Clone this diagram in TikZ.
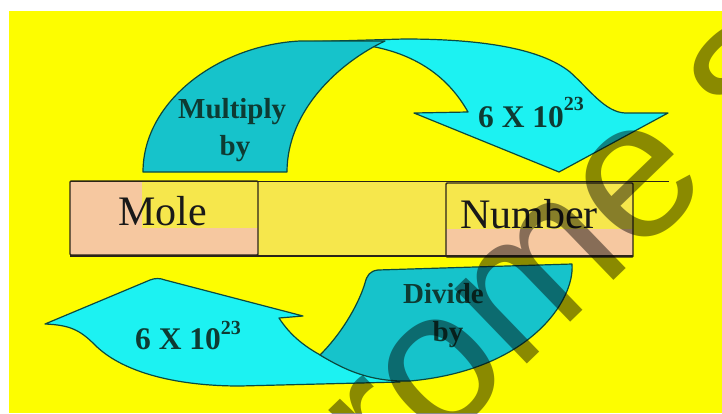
\documentclass[tikz,border=0pt]{standalone}
\usepackage{fontspec}
\setmainfont{Liberation Serif}
\newfontfamily\markfont{Liberation Sans}
\definecolor{bgyellow}{HTML}{FDFD00}
\definecolor{bandc}{HTML}{F6E74C}
\definecolor{peach}{HTML}{F6C8A0}
\definecolor{cyanfill}{HTML}{1CF2F2}
\definecolor{tealfill}{HTML}{16C3CB}
\definecolor{outl}{HTML}{0B4A40}
\definecolor{lblc}{HTML}{0E3B33}
\definecolor{boxline}{HTML}{2A2418}
\begin{document}
\begin{tikzpicture}[x=1pt,y=-1pt,
  shapeedge/.style={draw=outl, line width=1.2pt, line join=round},
  boxedge/.style={draw=boxline, line width=1.4pt},
  boxtxt/.style={text=black!90, inner sep=0pt, font=\fontsize{42}{42}\selectfont},
  lbl/.style={text=lblc, inner sep=0pt, font=\bfseries\fontsize{29}{29}\selectfont},
  numlbl/.style={text=lblc, inner sep=0pt, font=\bfseries\fontsize{31.5}{31.5}\selectfont},
  wm/.style={text=black, text opacity=0.45, inner sep=0pt, font=\markfont\fontsize{197}{197}\selectfont}]
\useasboundingbox (0,0) rectangle (722,413);
\begin{scope}
\clip (0,0) rectangle (722,413);
% page and yellow panel
\fill[white] (0,0) rectangle (722,413);
\fill[bgyellow] (9,11) rectangle (722,413);

% central band with the two boxes
\fill[bandc] (70,181) rectangle (633,256);
\fill[peach] (70,181) rectangle (258,255);
\fill[bandc] (142,181) rectangle (258,228);
\fill[peach] (446,183) rectangle (633,257);
\fill[bandc] (446,183) rectangle (633,229);
\draw[boxedge] (70,181.5) -- (669,181.5);
\draw[boxedge] (70,256) -- (633,256);
\draw[boxedge, rounded corners=1pt] (70,181) rectangle (258,255);
\draw[boxedge, rounded corners=1pt] (446,183) rectangle (633,257);
\node[boxtxt, anchor=base west] (mole) at (118,225) {Mole};
\node[boxtxt, anchor=base west] (number) at (460,228) {Number};

% upper arrow: cyan ribbon with downward head
\path[shapeedge, fill=cyanfill]
  (300,42) -- (404,39) .. controls (480,39) and (540,48) .. (570,72)
  .. controls (590,90) and (605,112) .. (625,113) -- (668,113)
  -- (559,172) -- (414,113) -- (468,112)
  .. controls (450,80) and (420,55) .. (370,46) -- cycle;
% upper arrow: teal rising tail
\path[shapeedge, fill=tealfill]
  (143,172) .. controls (143,100) and (220,45) .. (300,41) -- (385,41)
  .. controls (340,62) and (287,110) .. (287,172) -- cycle;

% lower arrow: cyan ribbon with leftward head
\path[shapeedge, fill=cyanfill]
  (45,324) -- (150,280) .. controls (155,278) and (160,278) .. (165,280)
  -- (303,316) -- (279,318) .. controls (290,335) and (305,348) .. (330,360)
  -- (400,382) -- (240,386) .. controls (170,386) and (120,370) .. (95,345)
  .. controls (80,330) and (70,325) .. (45,324) -- cycle;
% lower arrow: teal falling tail
\path[shapeedge, fill=tealfill]
  (320,355) .. controls (345,330) and (360,300) .. (365,283)
  .. controls (367,275) and (370,271) .. (378,270) -- (572,264)
  .. controls (575,300) and (530,370) .. (410,381)
  .. controls (370,382) and (345,370) .. (320,355) -- cycle;

% arrow labels
\node[lbl, anchor=base west] (mul) at (178,118) {Multiply};
\node[lbl, anchor=base] (mulby) at (235,155) {by};
\node[numlbl, anchor=base west] (upnum) at (478,127) {6 X 10\raisebox{17pt}{\fontsize{20}{20}\selectfont 23}};
\node[lbl, anchor=base west] (div) at (403,303) {Divide};
\node[lbl, anchor=base] (divby) at (448,341) {by};
\node[numlbl, anchor=base west] (lownum) at (135,349) {6 X 10\raisebox{15pt}{\fontsize{20}{20}\selectfont 23}};

% diagonal watermark lettering
\node[wm, rotate=44, anchor=base west] (mark) at (391,495) {rome\kern48pt s};
\end{scope}
\end{tikzpicture}
\end{document}
